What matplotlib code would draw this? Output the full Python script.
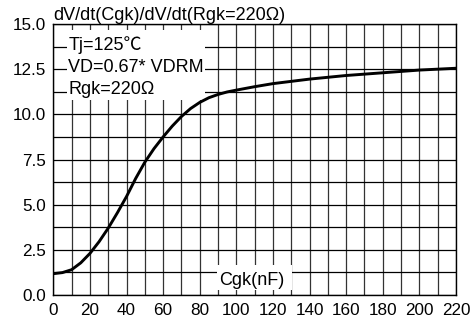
import matplotlib
matplotlib.use("Agg")
import matplotlib.pyplot as plt
from matplotlib.patches import Rectangle

plt.rcParams['font.family'] = ['Liberation Sans', 'Noto Sans CJK SC', 'DejaVu Sans']

# curve
cgk = [0, 5, 10, 15, 20, 25, 30, 35, 40, 45, 50, 55, 60, 65, 70, 75,
       80, 85, 90, 95, 100, 110, 120, 140, 160, 180, 200, 220]
ratio = [1.18, 1.24, 1.4, 1.78, 2.3, 2.95, 3.7, 4.55, 5.45, 6.45, 7.35, 8.1, 8.75, 9.35, 9.88, 10.32,
         10.66, 10.92, 11.1, 11.24, 11.34, 11.53, 11.7, 11.95, 12.15, 12.3, 12.45, 12.55]

x_grid = list(range(0, 221, 10))
y_grid = [i * 1.25 for i in range(13)]
x_ticks = list(range(0, 221, 20))
y_ticks = [0, 2.5, 5, 7.5, 10, 12.5, 15]

title = "dV/dt(Cgk)/dV/dt(Rgk=220Ω)"
notes = ["Tj=125℃", "VD=0.67* VDRM", "Rgk=220Ω"]
x_name = "Cgk(nF)"

fig = plt.figure(figsize=(4.77, 3.25), dpi=100)
ax = fig.add_axes([53.3 / 477, 30 / 325, 402.7 / 477, 271 / 325])

for xv in x_grid:
    ax.axvline(xv, color="#333333", lw=0.9, zorder=1)
for yv in y_grid:
    ax.axhline(yv, color="black", lw=0.9, zorder=1)

ax.plot(cgk, ratio, color="black", lw=2.1, zorder=4, solid_joinstyle="round")

ax.set_xlim(0, 220)
ax.set_ylim(0, 15)
ax.set_xticks(x_ticks)
ax.set_yticks(y_ticks)
ax.set_yticklabels([f"{v:.1f}" for v in y_ticks])
ax.tick_params(length=0, labelsize=12.3, pad=5)
ax.tick_params(axis="x", pad=6)
for s in ax.spines.values():
    s.set_linewidth(1.0)
    s.set_zorder(5)

# white box behind the condition notes
ax.add_patch(Rectangle((0.034, 0.72), 0.343, 0.258, transform=ax.transAxes,
                       facecolor="white", edgecolor="none", zorder=2))
for txt, yb in zip(notes, [0.904, 0.822, 0.740]):
    ax.text(0.037, yb, txt, transform=ax.transAxes, fontsize=13,
            va="baseline", ha="left", zorder=3)

ax.add_patch(Rectangle((0.407, 0.018), 0.186, 0.093, transform=ax.transAxes,
                       facecolor="white", edgecolor="none", zorder=2))
ax.text(0.413, 0.037, x_name, transform=ax.transAxes, fontsize=13,
        va="baseline", ha="left", zorder=3)

ax.set_title(title, loc="left", fontsize=13, pad=3)

fig.savefig("out.png", dpi=100)
